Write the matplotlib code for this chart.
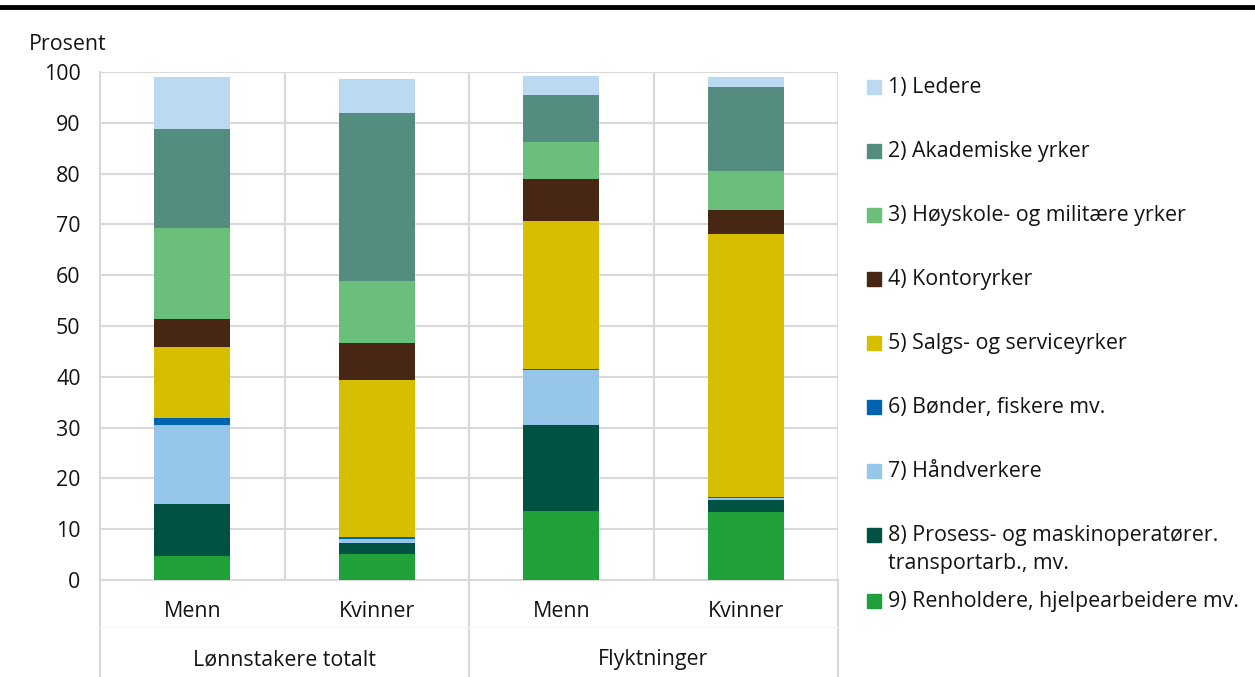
import matplotlib
matplotlib.use("Agg")
import matplotlib.pyplot as plt
from matplotlib.patches import Rectangle
from matplotlib.lines import Line2D
import numpy as np

plt.rcParams['font.family'] = ['Open Sans', 'DejaVu Sans']

# Data (prosent), one list per occupation group, order: Lonnstakere Menn, Kvinner, Flyktninger Menn, Kvinner
bar_labels = ["Menn", "Kvinner", "Menn", "Kvinner"]
groups = ["Lønnstakere totalt", "Flyktninger"]

series_names = [
    "1) Ledere",
    "2) Akademiske yrker",
    "3) Høyskole- og militære yrker",
    "4) Kontoryrker",
    "5) Salgs- og serviceyrker",
    "6) Bønder, fiskere mv.",
    "7) Håndverkere",
    "8) Prosess- og maskinoperatører.\ntransportarb., mv.",
    "9) Renholdere, hjelpearbeidere mv.",
]
ledere = [10.3, 6.8, 3.7, 1.9]
akademiske = [19.6, 33.1, 9.3, 16.6]
hoyskole = [17.9, 12.1, 7.3, 7.7]
kontor = [5.4, 7.4, 8.3, 4.7]
salg = [14.1, 30.8, 29.0, 51.7]
bonder = [1.2, 0.5, 0.3, 0.3]
handverk = [15.7, 0.8, 10.8, 0.4]
prosess = [10.1, 2.0, 17.0, 2.3]
renhold = [4.8, 5.2, 13.5, 13.4]

colors = ["#BBDAF2", "#548C80", "#6ABF7B", "#472614", "#D6BE00",
          "#0063B0", "#96C7EB", "#005243", "#20A039"]

# stacked from the bottom: 9 -> 1
stack = [renhold, prosess, handverk, bonder, salg, kontor, hoyskole, akademiske, ledere]
stack_colors = colors[::-1]

W, H = 1255, 677
FS = 15.4
TXT = "#141414"
fig = plt.figure(figsize=(W / 100, H / 100), dpi=100)
ax = fig.add_axes([100 / W, (H - 580) / H, 738 / W, 508 / H])

x = np.arange(len(bar_labels))
bottom = np.zeros(len(bar_labels))
for vals, c in zip(stack, stack_colors):
    ax.bar(x, vals, width=0.41, bottom=bottom, color=c, edgecolor="none", zorder=3)
    bottom += np.array(vals)

grid_c = "#D9D9D9"
ax.set_xlim(-0.5, 3.5)
ax.set_ylim(0, 100)
ax.set_yticks(range(0, 101, 10))
ax.set_xticks([])
ax.yaxis.grid(True, color=grid_c, linewidth=1.5, zorder=0)
for xv in [0.5, 1.5, 2.5, 3.5]:
    ax.axvline(xv, color=grid_c, linewidth=1.5, zorder=0)
for s in ["top", "right"]:
    ax.spines[s].set_visible(False)
ax.spines["left"].set_color(grid_c)
ax.spines["left"].set_linewidth(1.5)
ax.spines["bottom"].set_color(grid_c)
ax.spines["bottom"].set_linewidth(1.5)
ax.tick_params(axis="y", length=0, pad=14, labelsize=FS, labelcolor=TXT)

# category axis below the plot
trans = ax.get_xaxis_transform()
bot = -(H - 580) / 508
for xv in [-0.5, 1.5, 3.5]:
    ax.add_line(Line2D([xv, xv], [0, bot], transform=trans, color=grid_c,
                       linewidth=1.5, clip_on=False))
ax.add_line(Line2D([-0.5, 3.5], [-0.093, -0.093], transform=trans, color="#F6F6F6",
                   linewidth=1, clip_on=False))
for xi, lab in zip(x, bar_labels):
    ax.text(xi, -0.062, lab, transform=trans, ha="center", va="center",
            fontsize=FS, color=TXT)
for gi, g in enumerate(groups):
    ax.text(gi * 2 + 0.5, -0.157, g, transform=trans, ha="center", va="center",
            fontsize=FS, color=TXT)

fig.text(29 / W, 1 - 44 / H, "Prosent", ha="left", va="center", fontsize=FS, color=TXT)

# top rule
fig.add_artist(Line2D([0, 1], [1 - 7 / H, 1 - 7 / H], color="black", linewidth=3.5))

# legend drawn by hand
leg_y = [87, 151, 215, 279, 343, 407, 471, 535, 601]
for name, c, yy in zip(series_names, colors, leg_y):
    fig.add_artist(Rectangle((867 / W, 1 - (yy + 7) / H), 14 / W, 14 / H,
                             color=c, transform=fig.transFigure))
    lines = name.split("\n")
    fig.text(888 / W, 1 - yy / H, lines[0], ha="left", va="center",
             fontsize=FS, color=TXT)
    if len(lines) > 1:
        fig.text(888 / W, 1 - (yy + 29) / H, lines[1], ha="left", va="center",
                 fontsize=FS, color=TXT)

fig.savefig("out.png", dpi=100)
